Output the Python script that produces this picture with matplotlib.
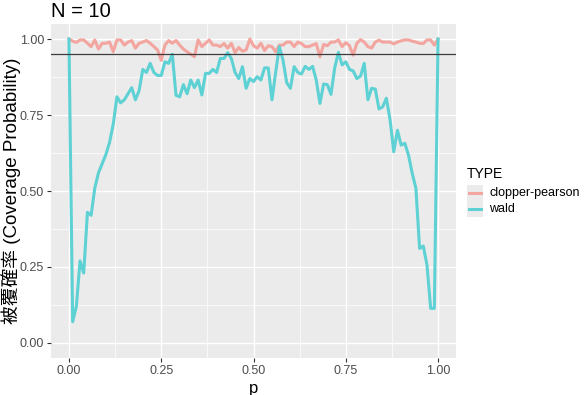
import numpy as np
import matplotlib.pyplot as plt
from matplotlib.patches import Rectangle
from matplotlib.lines import Line2D

plt.rcParams['font.family'] = ['Liberation Sans', 'Noto Sans CJK JP', 'DejaVu Sans']

# p grid: 0.00, 0.01, ..., 1.00
p = np.linspace(0, 1, 101)

# coverage
cp = [1.0, 0.993, 0.989, 0.997, 0.997, 0.986, 0.975, 0.997, 0.967, 0.986,
      0.986, 0.99, 0.958, 0.997, 0.997, 0.98, 0.99, 0.995, 0.97, 0.986,
      0.99, 0.995, 0.986, 0.975, 0.964, 0.93, 0.98, 0.995, 0.986, 0.995,
      0.98, 0.967, 0.958, 0.95, 0.942, 0.997, 0.975, 0.986, 0.997, 0.98,
      0.98, 0.975, 0.985, 0.97, 0.986, 0.955, 0.972, 0.96, 0.964, 1.0,
      0.978, 0.97, 0.986, 0.962, 0.978, 0.975, 0.958, 0.98, 0.98, 0.99,
      0.99, 0.975, 0.99, 0.985, 0.975, 0.975, 0.98, 0.985, 0.942, 0.982,
      0.978, 0.99, 0.99, 0.997, 0.975, 0.988, 0.978, 0.947, 0.986, 0.998,
      0.99, 0.975, 0.97, 0.99, 0.996, 0.99, 0.99, 0.99, 0.984, 0.99,
      0.994, 0.997, 0.997, 0.993, 0.99, 0.986, 0.985, 0.997, 0.997, 0.98,
      1.0]
wald = [1.0, 0.07, 0.12, 0.27, 0.23, 0.43, 0.42, 0.51, 0.56, 0.59,
        0.62, 0.66, 0.72, 0.81, 0.79, 0.80, 0.82, 0.84, 0.80, 0.83,
        0.90, 0.89, 0.92, 0.89, 0.88, 0.88, 0.925, 0.92, 0.95, 0.815,
        0.81, 0.85, 0.82, 0.865, 0.84, 0.865, 0.816, 0.887, 0.887, 0.90,
        0.89, 0.936, 0.936, 0.955, 0.936, 0.89, 0.87, 0.909, 0.838, 0.87,
        0.86, 0.876, 0.865, 0.905, 0.905, 0.80, 0.89, 0.975, 0.93, 0.856,
        0.838, 0.909, 0.89, 0.885, 0.91, 0.90, 0.91, 0.865, 0.788, 0.852,
        0.85, 0.818, 0.905, 0.956, 0.915, 0.925, 0.90, 0.895, 0.87, 0.878,
        0.92, 0.80, 0.838, 0.835, 0.77, 0.777, 0.805, 0.734, 0.629, 0.70,
        0.651, 0.657, 0.618, 0.558, 0.509, 0.311, 0.319, 0.257, 0.114, 0.114,
        1.0]
types = ['clopper-pearson', 'wald']
colors = ['#F3A59F', '#5ED1D4']

fig = plt.figure(figsize=(5.86, 3.95), dpi=100)
ax = fig.add_axes([0.0862, 0.0932, 0.6928, 0.8465])
ax.set_facecolor('#EBEBEB')
for s in ax.spines.values():
    s.set_visible(False)

ax.plot(p, cp, color=colors[0], lw=2.2, solid_joinstyle='round')
ax.plot(p, wald, color=colors[1], lw=2.2, solid_joinstyle='round')
ax.axhline(0.95, color='#3c3c3c', lw=0.9)

ticks = [0, 0.25, 0.5, 0.75, 1.0]
labels = ['0.00', '0.25', '0.50', '0.75', '1.00']
ax.set_xlim(-0.05, 1.05)
ax.set_ylim(-0.05, 1.05)
ax.set_xticks(ticks)
ax.set_xticklabels(labels)
ax.set_yticks(ticks)
ax.set_yticklabels(labels)
ax.set_xticks([0.125, 0.375, 0.625, 0.875], minor=True)
ax.set_yticks([0.125, 0.375, 0.625, 0.875], minor=True)
ax.grid(which='major', color='white', lw=1.0)
ax.grid(which='minor', color='white', lw=0.5)
ax.set_axisbelow(True)
ax.tick_params(which='major', length=2.6, width=0.8, color='#333333',
               labelcolor='#4D4D4D', labelsize=9, pad=2)
ax.tick_params(which='minor', length=0)

ax.set_xlabel('p', fontsize=12, labelpad=3)
ax.set_ylabel('被覆確率 (Coverage Probability)', fontsize=13.5, va='center')
ax.yaxis.set_label_coords(-0.098, 0.5)
ax.set_title('N = 10', loc='left', fontsize=14.5, pad=5)

# legend drawn like ggplot's
fig.text(467 / 586, 1 - 178 / 395, 'TYPE', fontsize=10, va='baseline')
for i, (t, c) in enumerate(zip(types, colors)):
    yc = 193 + 15.5 * i
    fig.add_artist(Rectangle((467 / 586, 1 - (yc + 8) / 395), 16 / 586, 16 / 395,
                             transform=fig.transFigure, facecolor='#EBEBEB',
                             edgecolor='none'))
    fig.add_artist(Line2D([469 / 586, 481 / 586], [1 - yc / 395] * 2,
                          transform=fig.transFigure, color=c, lw=2.2))
    fig.text(489 / 586, 1 - yc / 395, t, fontsize=9, va='center')

fig.savefig('out.png', dpi=100)
